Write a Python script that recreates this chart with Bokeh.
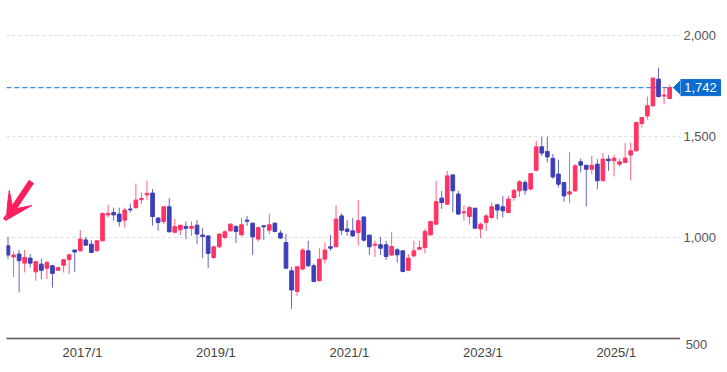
import pandas as pd
from bokeh.plotting import figure
from bokeh.layouts import row
from bokeh.models import (Range1d, FixedTicker, PolyAnnotation, Arrow,
                          VeeHead, ColumnDataSource)
from bokeh.embed import file_html
from bokeh.resources import INLINE

# ---------------- data (monthly candles, 2015/12 .. 2025/11) ----------------
months = [f"{p.year}/{p.month}" for p in pd.period_range("2015-12", periods=120, freq="M")]

opens = [959, 904, 918, 873, 898, 830, 868, 848, 860, 838,
         863, 891, 938, 934, 988, 967, 934, 984, 1112, 1124,
         1116, 1086, 1141, 1148, 1187, 1211, 1220, 1096, 1079, 1152,
         1026, 1038, 1054, 1046, 1061, 1012, 1008, 901, 954, 1000,
         1033, 1054, 1013, 1086, 1071, 992, 1058, 1036, 1071, 1022,
         975, 835, 733, 844, 934, 860, 786, 893, 954, 954,
         1107, 1042, 1033, 1025, 1102, 1012, 962, 964, 964, 913,
         939, 934, 838, 909, 942, 950, 1013, 1066, 1195, 1165,
         1310, 1215, 1122, 1104, 1145, 1042, 1074, 1099, 1162, 1152,
         1124, 1198, 1231, 1272, 1240, 1333, 1449, 1426, 1392, 1314,
         1272, 1215, 1231, 1375, 1358, 1338, 1363, 1281, 1388, 1380,
         1363, 1371, 1408, 1429, 1564, 1602, 1652, 1784, 1700, 1688]

closes = [913, 913, 885, 901, 873, 880, 838, 876, 822, 851,
          890, 914, 928, 992, 962, 926, 984, 1119, 1119, 1112,
          1079, 1136, 1137, 1185, 1193, 1218, 1104, 1074, 1152, 1028,
          1054, 1061, 1046, 1054, 1017, 1005, 921, 954, 1017, 1028,
          1066, 1030, 1063, 1081, 1003, 1049, 1053, 1063, 1030, 997,
          848, 740, 855, 938, 860, 782, 893, 938, 947, 1091,
          1036, 1030, 1008, 1083, 987, 954, 967, 947, 906, 955,
          914, 832, 898, 934, 950, 1030, 1079, 1177, 1173, 1305,
          1231, 1116, 1127, 1148, 1046, 1066, 1107, 1152, 1136, 1132,
          1190, 1234, 1276, 1234, 1317, 1449, 1418, 1399, 1300, 1264,
          1206, 1226, 1355, 1358, 1338, 1358, 1281, 1388, 1380, 1393,
          1375, 1393, 1429, 1569, 1594, 1652, 1789, 1698, 1705, 1742]

highs = [1003, 931, 938, 938, 918, 885, 896, 885, 865, 855,
         893, 918, 940, 1036, 1003, 987, 987, 1124, 1162, 1148,
         1148, 1148, 1168, 1267, 1223, 1281, 1240, 1102, 1152, 1195,
         1091, 1061, 1079, 1079, 1086, 1046, 1008, 954, 1020, 1036,
         1071, 1061, 1096, 1107, 1074, 1053, 1061, 1116, 1074, 1036,
         1017, 855, 855, 947, 984, 871, 947, 975, 1013, 1160,
         1119, 1086, 1096, 1185, 1102, 1012, 984, 1003, 984, 1028,
         947, 938, 918, 984, 984, 1042, 1083, 1281, 1231, 1330,
         1310, 1231, 1157, 1157, 1145, 1074, 1116, 1173, 1165, 1206,
         1206, 1240, 1284, 1284, 1317, 1479, 1498, 1498, 1413, 1385,
         1276, 1421, 1363, 1391, 1358, 1404, 1388, 1418, 1408, 1408,
         1391, 1467, 1470, 1573, 1597, 1698, 1792, 1841, 1742, 1754]

lows = [893, 805, 728, 827, 851, 786, 794, 794, 752, 835,
        827, 819, 830, 931, 959, 924, 931, 980, 1099, 1083,
        1054, 1049, 1124, 1141, 1165, 1185, 1058, 1033, 1066, 1026,
        1022, 1012, 992, 1008, 967, 898, 848, 893, 947, 992,
        1030, 972, 1008, 1058, 914, 980, 988, 1017, 1025, 992,
        848, 646, 711, 838, 855, 782, 782, 871, 934, 954,
        1013, 1008, 1003, 959, 980, 914, 904, 914, 889, 909,
        876, 827, 835, 901, 938, 921, 1008, 1063, 1141, 1162,
        1124, 1112, 1083, 1063, 1046, 997, 1033, 1091, 1091, 1099,
        1124, 1182, 1201, 1211, 1234, 1327, 1404, 1371, 1290, 1247,
        1177, 1170, 1226, 1322, 1153, 1314, 1240, 1281, 1330, 1302,
        1351, 1368, 1281, 1426, 1544, 1583, 1648, 1693, 1660, 1688]

tick_labels = ["2017/1", "2019/1", "2021/1", "2023/1", "2025/1"]
y_ticks = [500, 1000, 1500, 2000]

# ---------------- styling / layout ----------------
UP = "#ff3464"
DOWN = "#3d3fb8"
W, H = 727, 372
FRAME_TOP_PX = 0
FRAME_BOTTOM_PX = 338
FRAME_LEFT_PX = 6
FRAME_RIGHT_PX = 680
CANDLE0_PX = 7.5
PX_PER_MONTH = 5.56
PRICE_PER_PX = 1000 / 202.0
Y_MIN = 500
FONT = "Liberation Sans"
LABEL_GREY = "#555555"


def dx(px):
    return (px - CANDLE0_PX) / PX_PER_MONTH


def dy(py):
    return Y_MIN + (FRAME_BOTTOM_PX - py) * PRICE_PER_PX


x = list(range(len(months)))
colors = [UP if c >= o else DOWN for o, c in zip(opens, closes)]
src = ColumnDataSource(dict(
    x=x, high=highs, low=lows,
    top=[max(o, c) for o, c in zip(opens, closes)],
    bottom=[min(o, c) for o, c in zip(opens, closes)],
    color=colors,
))

y_range = Range1d(Y_MIN, dy(FRAME_TOP_PX))

# ---------------- main price panel ----------------
p = figure(width=FRAME_RIGHT_PX, height=H,
           x_range=Range1d(dx(FRAME_LEFT_PX), dx(FRAME_RIGHT_PX)),
           y_range=y_range,
           output_backend="svg", toolbar_location=None,
           min_border_left=FRAME_LEFT_PX, min_border_top=FRAME_TOP_PX,
           min_border_right=0, min_border_bottom=H - FRAME_BOTTOM_PX,
           y_axis_location=None, outline_line_color=None,
           background_fill_color="white", border_fill_color="white")

p.xgrid.grid_line_color = None
p.ygrid.ticker = FixedTicker(ticks=y_ticks[1:])
p.ygrid.grid_line_color = "#dddddd"
p.ygrid.grid_line_dash = "3 3"
p.ygrid.grid_line_width = 1

tick_pos = [months.index(t) + 0.4 for t in tick_labels]
p.xaxis.ticker = FixedTicker(ticks=tick_pos)
p.xaxis.major_label_overrides = {tp: t for tp, t in zip(tick_pos, tick_labels)}
p.xaxis.major_tick_line_color = None
p.xaxis.major_tick_out = 0
p.xaxis.major_tick_in = 0
p.xaxis.minor_tick_line_color = None
p.xaxis.minor_tick_out = 0
p.xaxis.axis_line_color = "#555555"
p.xaxis.axis_line_width = 1.5
p.xaxis.major_label_standoff = 6
p.xaxis.major_label_text_font = FONT
p.xaxis.major_label_text_font_size = "13px"
p.xaxis.major_label_text_color = "#444444"

last = closes[-1]
TAG_BLUE = "#0b6ccf"
LAST_LINE_BLUE = "#2f8cf0"
p.segment(x0=[dx(FRAME_LEFT_PX)], y0=[last], x1=[dx(672)], y1=[last],
          line_color=LAST_LINE_BLUE, line_dash="5 3", line_width=1.3)

p.segment(x0="x", y0="high", x1="x", y1="low", source=src,
          line_color="color", line_width=1, line_alpha=0.8)
p.vbar(x="x", width=0.66, top="top", bottom="bottom", source=src,
       fill_color="color", line_color="color", line_width=1)

half = 8 * PRICE_PER_PX
p.add_layout(PolyAnnotation(
    xs=[dx(673), dx(681), dx(681)],
    ys=[last, last + half, last - half],
    fill_color=TAG_BLUE, fill_alpha=1.0, line_color=TAG_BLUE, line_alpha=1.0))

ARROW_PINK = "#ff1d5e"
p.add_layout(Arrow(end=VeeHead(size=27, fill_color=ARROW_PINK, line_color=ARROW_PINK),
                   x_start=dx(31), y_start=dy(181), x_end=dx(5), y_end=dy(220),
                   line_color=ARROW_PINK, line_width=6))

# ---------------- price-scale panel (right) ----------------
q = figure(width=W - FRAME_RIGHT_PX, height=H,
           x_range=Range1d(FRAME_RIGHT_PX, W),
           y_range=y_range,
           output_backend="svg", toolbar_location=None,
           min_border_left=0, min_border_right=0, min_border_top=FRAME_TOP_PX,
           min_border_bottom=H - FRAME_BOTTOM_PX,
           y_axis_location=None, outline_line_color=None,
           background_fill_color="white", border_fill_color="white")
q.grid.visible = False

# y tick labels inside this panel (bottom one sits just below the baseline)
lab_src = ColumnDataSource(dict(y=y_ticks[1:], text=[f"{v:,}" for v in y_ticks[1:]]))
q.text(x=FRAME_RIGHT_PX + 3, y="y", text="text", source=lab_src,
       text_font={"value": FONT}, text_font_size="13px", text_color=LABEL_GREY,
       text_align="left", text_baseline="middle")

BOTTOM_LABEL_X = 696
q.xaxis.ticker = FixedTicker(ticks=[BOTTOM_LABEL_X])
q.xaxis.major_label_overrides = {BOTTOM_LABEL_X: f"{y_ticks[0]:,}"}
q.xaxis.axis_line_color = None
q.xaxis.major_tick_line_color = None
q.xaxis.major_tick_out = 0
q.xaxis.major_tick_in = 0
q.xaxis.minor_tick_line_color = None
q.xaxis.minor_tick_out = 0
q.xaxis.major_label_standoff = 1
q.xaxis.major_label_text_font = FONT
q.xaxis.major_label_text_font_size = "13px"
q.xaxis.major_label_text_color = LABEL_GREY

q.quad(left=FRAME_RIGHT_PX, right=720, top=last + half, bottom=last - half,
       fill_color=TAG_BLUE, line_color=TAG_BLUE)
q.text(x=700, y=last, text=[f"{last:,}"], text_font={"value": FONT},
       text_font_size="13px", text_color="white",
       text_align="center", text_baseline="middle")

layout = row(p, q, spacing=0)
open("out.html", "w").write(file_html(layout, INLINE))
